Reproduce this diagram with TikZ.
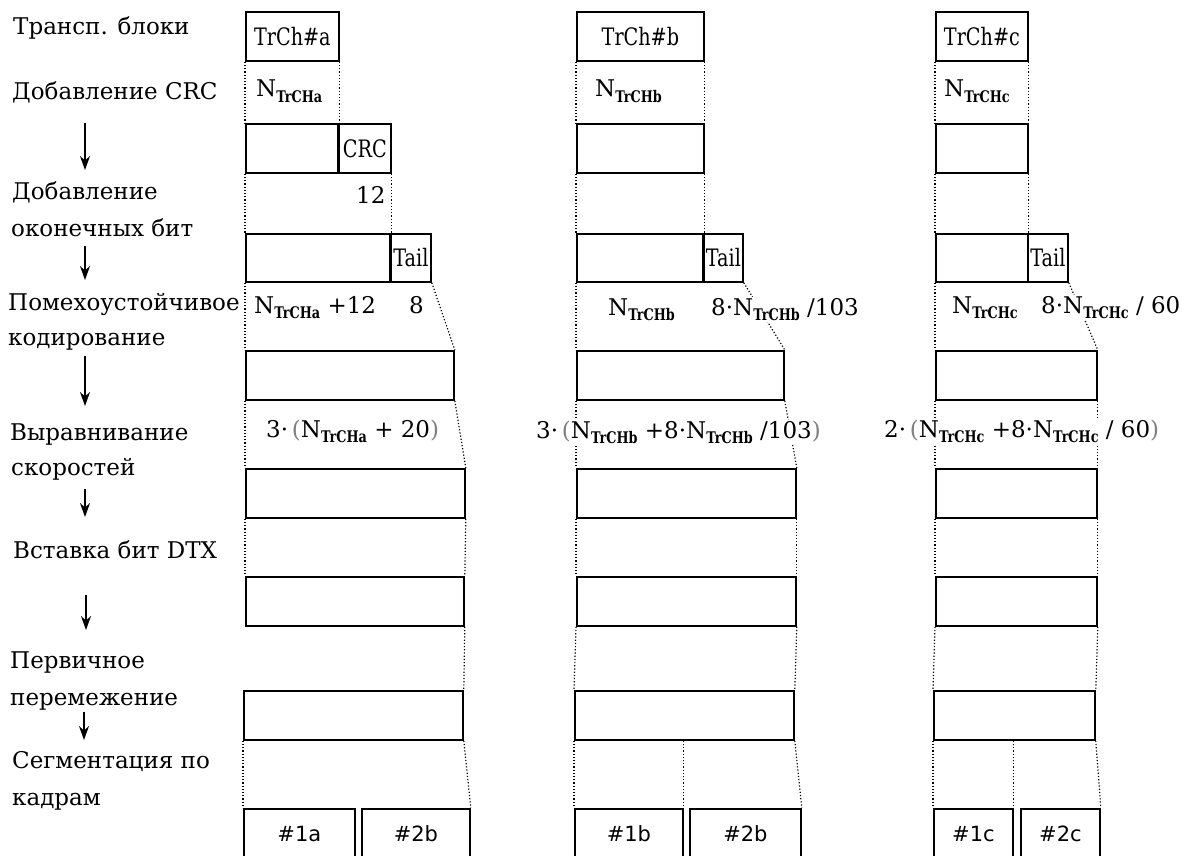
\documentclass[tikz,border=0pt]{standalone}
\usepackage{fontspec}
\setmainfont{DejaVu Serif}
\newfontfamily\subfont[FakeStretch=0.8]{DejaVu Serif}
\newfontfamily\narrowfont[FakeStretch=0.8]{DejaVu Serif}
\newfontfamily\framefont{DejaVu Sans}
\usetikzlibrary{arrows.meta}
\newcommand{\NT}[1]{N\raisebox{-0.5ex}{\fontsize{16}{16}\subfont\bfseries TrCH#1}}

\begin{document}
\begin{tikzpicture}[x=1pt,y=-1pt,font=\fontsize{23}{27}\selectfont,
	blk/.style={draw,line width=1.8pt,inner sep=0pt,anchor=north west,font=\fontsize{24}{28}\narrowfont},
	frm/.style={blk,minimum height=50pt,font=\fontsize{21}{24}\framefont},
	guide/.style={line width=1.2pt,dash pattern=on 1.2pt off 2pt},
	val/.style={anchor=base west,inner sep=1pt,fill=white},
	lbl/.style={anchor=base west,inner sep=0pt},
	flow/.style={line width=1.5pt,-{Stealth[length=14pt,width=10pt]}}]
		\fill[white] (0,0) rectangle (1189,856);
		\useasboundingbox (0,0) rectangle (1189,856);
		% stages
		\node[lbl] (l1) at (13,35) {Трансп. блоки};
		\node[lbl] (l2) at (12,100) {Добавление CRC};
		\node[lbl] (l3) at (12,199) {Добавление};
		\node[lbl] (l4) at (11,236) {оконечных бит};
		\node[lbl] (l5) at (8,310) {Помехоустойчивое};
		\node[lbl] (l6) at (8,345) {кодирование};
		\node[lbl] (l7) at (10,440) {Выравнивание};
		\node[lbl] (l8) at (11,475) {скоростей};
		\node[lbl] (l9) at (13,558) {Вставка бит DTX};
		\node[lbl] (l10) at (10,668) {Первичное};
		\node[lbl] (l11) at (10,705) {перемежение};
		\node[lbl] (l12) at (12,768) {Сегментация по};
		\node[lbl] (l13) at (12,805) {кадрам};
		\coordinate (s1) at (85,123); \coordinate (e1) at (85,170);
		\coordinate (s2) at (85,246); \coordinate (e2) at (85,280);
		\coordinate (s3) at (85,356); \coordinate (e3) at (85,406);
		\coordinate (s4) at (85,489); \coordinate (e4) at (85,517);
		\coordinate (s5) at (86,595); \coordinate (e5) at (86,630);
		\coordinate (s6) at (84,712); \coordinate (e6) at (84,740);
		\draw[flow] (s1) -- (e1); \draw[flow] (s2) -- (e2); \draw[flow] (s3) -- (e3);
		\draw[flow] (s4) -- (e4); \draw[flow] (s5) -- (e5); \draw[flow] (s6) -- (e6);
		% channel a
		\node[blk,minimum width=93pt,minimum height=49pt] (a0) at (245,11) {TrCh\#a};
		\node[blk,minimum width=93pt,minimum height=49pt] (a1) at (245,123) {};
		\node[blk,minimum width=52pt,minimum height=49pt] (a1c) at (338,123) {CRC};
		\node[blk,minimum width=145pt,minimum height=48pt] (a2) at (245,233) {};
		\node[blk,minimum width=40pt,minimum height=48pt] (a2t) at (390,233) {Tail};
		\node[blk,minimum width=208pt,minimum height=49pt] (a3) at (245,350) {};
		\node[blk,minimum width=219pt,minimum height=49pt] (a4) at (245,468) {};
		\node[blk,minimum width=218pt,minimum height=49pt] (a5) at (245,576) {};
		\node[blk,minimum width=219pt,minimum height=49pt] (a6) at (243,690) {};
		\node[frm,minimum width=111pt] (a7) at (243,808) {\#1a};
		\node[frm,minimum width=108pt] (a8) at (361,808) {\#2b};
		\draw[line width=3pt] (a1c.north west) -- (a1c.south west);
		\draw[line width=3pt] (a2t.north west) -- (a2t.south west);
		\draw[guide] (a0.south west) -- (a1.north west); \draw[guide] (a0.south east) -- (a1.north east);
		\draw[guide] (a1.south west) -- (a2.north west); \draw[guide] (a1c.south east) -- (a2.north east);
		\draw[guide] (a2.south west) -- (a3.north west); \draw[guide] (a2t.south east) -- (a3.north east);
		\draw[guide] (a3.south west) -- (a4.north west); \draw[guide] (a3.south east) -- (a4.north east);
		\draw[guide] (a4.south west) -- (a5.north west); \draw[guide] (a4.south east) -- (a5.north east);
		\draw[guide] (a5.south east) -- (a6.north east);
		\draw[guide] (a6.south west) -- (a7.north west); \draw[guide] (a6.south east) -- (a8.north east);
		\node[val] (na1) at (255,97) {\NT{a}};
		\node[val] (na2) at (355,203) {12};
		\node[val] (na3) at (253,313) {\NT{a} +12};
		\node[val] (na4) at (408,313) {8};
		\node[val] (na5) at (265,437) {3·\,{\color{gray}(}\NT{a} + 20{\color{gray})}};
		% channel b
		\node[blk,minimum width=127pt,minimum height=49pt] (b0) at (576,11) {TrCh\#b};
		\node[blk,minimum width=127pt,minimum height=49pt] (b1) at (576,123) {};
		\node[blk,minimum width=127pt,minimum height=48pt] (b2) at (576,233) {};
		\node[blk,minimum width=39pt,minimum height=48pt] (b2t) at (703,233) {Tail};
		\node[blk,minimum width=207pt,minimum height=49pt] (b3) at (576,350) {};
		\node[blk,minimum width=219pt,minimum height=49pt] (b4) at (576,468) {};
		\node[blk,minimum width=219pt,minimum height=49pt] (b5) at (576,576) {};
		\node[blk,minimum width=219pt,minimum height=49pt] (b6) at (574,690) {};
		\node[frm,minimum width=108pt] (b7) at (574,808) {\#1b};
		\node[frm,minimum width=111pt] (b8) at (689,808) {\#2b};
		\draw[line width=3pt] (b2t.north west) -- (b2t.south west);
		\draw[guide] (b0.south west) -- (b1.north west); \draw[guide] (b0.south east) -- (b1.north east);
		\draw[guide] (b1.south west) -- (b2.north west); \draw[guide] (b1.south east) -- (b2.north east);
		\draw[guide] (b2.south west) -- (b3.north west); \draw[guide] (b2t.south east) -- (b3.north east);
		\draw[guide] (b3.south west) -- (b4.north west); \draw[guide] (b3.south east) -- (b4.north east);
		\draw[guide] (b4.south west) -- (b5.north west); \draw[guide] (b4.south east) -- (b5.north east);
		\draw[guide] (b5.south west) -- (b6.north west); \draw[guide] (b5.south east) -- (b6.north east);
		\draw[guide] (b6.south west) -- (b7.north west); \draw[guide] (b6.south east) -- (b8.north east);
		\draw[guide] (b6.south -| b7.north east) -- (b7.north east);
		\node[val] (nb1) at (594,97) {\NT{b}};
		\node[val] (nb2) at (607,315) {\NT{b}};
		\node[val] (nb3) at (710,315) {8·\NT{b} /103};
		\node[val] (nb4) at (535,438) {3·\,{\color{gray}(}\NT{b} +8·\NT{b} /103{\color{gray})}};
		% channel c
		\node[blk,minimum width=92pt,minimum height=49pt] (c0) at (935,11) {TrCh\#c};
		\node[blk,minimum width=92pt,minimum height=49pt] (c1) at (935,123) {};
		\node[blk,minimum width=92pt,minimum height=48pt] (c2) at (935,233) {};
		\node[blk,minimum width=40pt,minimum height=48pt] (c2t) at (1027,233) {Tail};
		\node[blk,minimum width=161pt,minimum height=49pt] (c3) at (935,350) {};
		\node[blk,minimum width=161pt,minimum height=49pt] (c4) at (935,468) {};
		\node[blk,minimum width=161pt,minimum height=49pt] (c5) at (935,576) {};
		\node[blk,minimum width=161pt,minimum height=49pt] (c6) at (933,690) {};
		\node[frm,minimum width=79pt] (c7) at (933,808) {\#1c};
		\node[frm,minimum width=79pt] (c8) at (1020,808) {\#2c};
		\draw[guide] (c0.south west) -- (c1.north west); \draw[guide] (c0.south east) -- (c1.north east);
		\draw[guide] (c1.south west) -- (c2.north west); \draw[guide] (c1.south east) -- (c2.north east);
		\draw[guide] (c2.south west) -- (c3.north west); \draw[guide] (c2t.south east) -- (c3.north east);
		\draw[guide] (c3.south west) -- (c4.north west); \draw[guide] (c3.south east) -- (c4.north east);
		\draw[guide] (c4.south west) -- (c5.north west); \draw[guide] (c4.south east) -- (c5.north east);
		\draw[guide] (c5.south west) -- (c6.north west); \draw[guide] (c5.south east) -- (c6.north east);
		\draw[guide] (c6.south west) -- (c7.north west); \draw[guide] (c6.south east) -- (c8.north east);
		\draw[guide] (c6.south -| c7.north east) -- (c7.north east);
		\node[val] (nc1) at (943,97) {\NT{c}};
		\node[val] (nc2) at (951,313) {\NT{c}};
		\node[val] (nc3) at (1040,313) {8·\NT{c} / 60};
		\node[val] (nc4) at (883,437) {2·\,{\color{gray}(}\NT{c} +8·\NT{c} / 60{\color{gray})}};
	\end{tikzpicture}
\end{document}
